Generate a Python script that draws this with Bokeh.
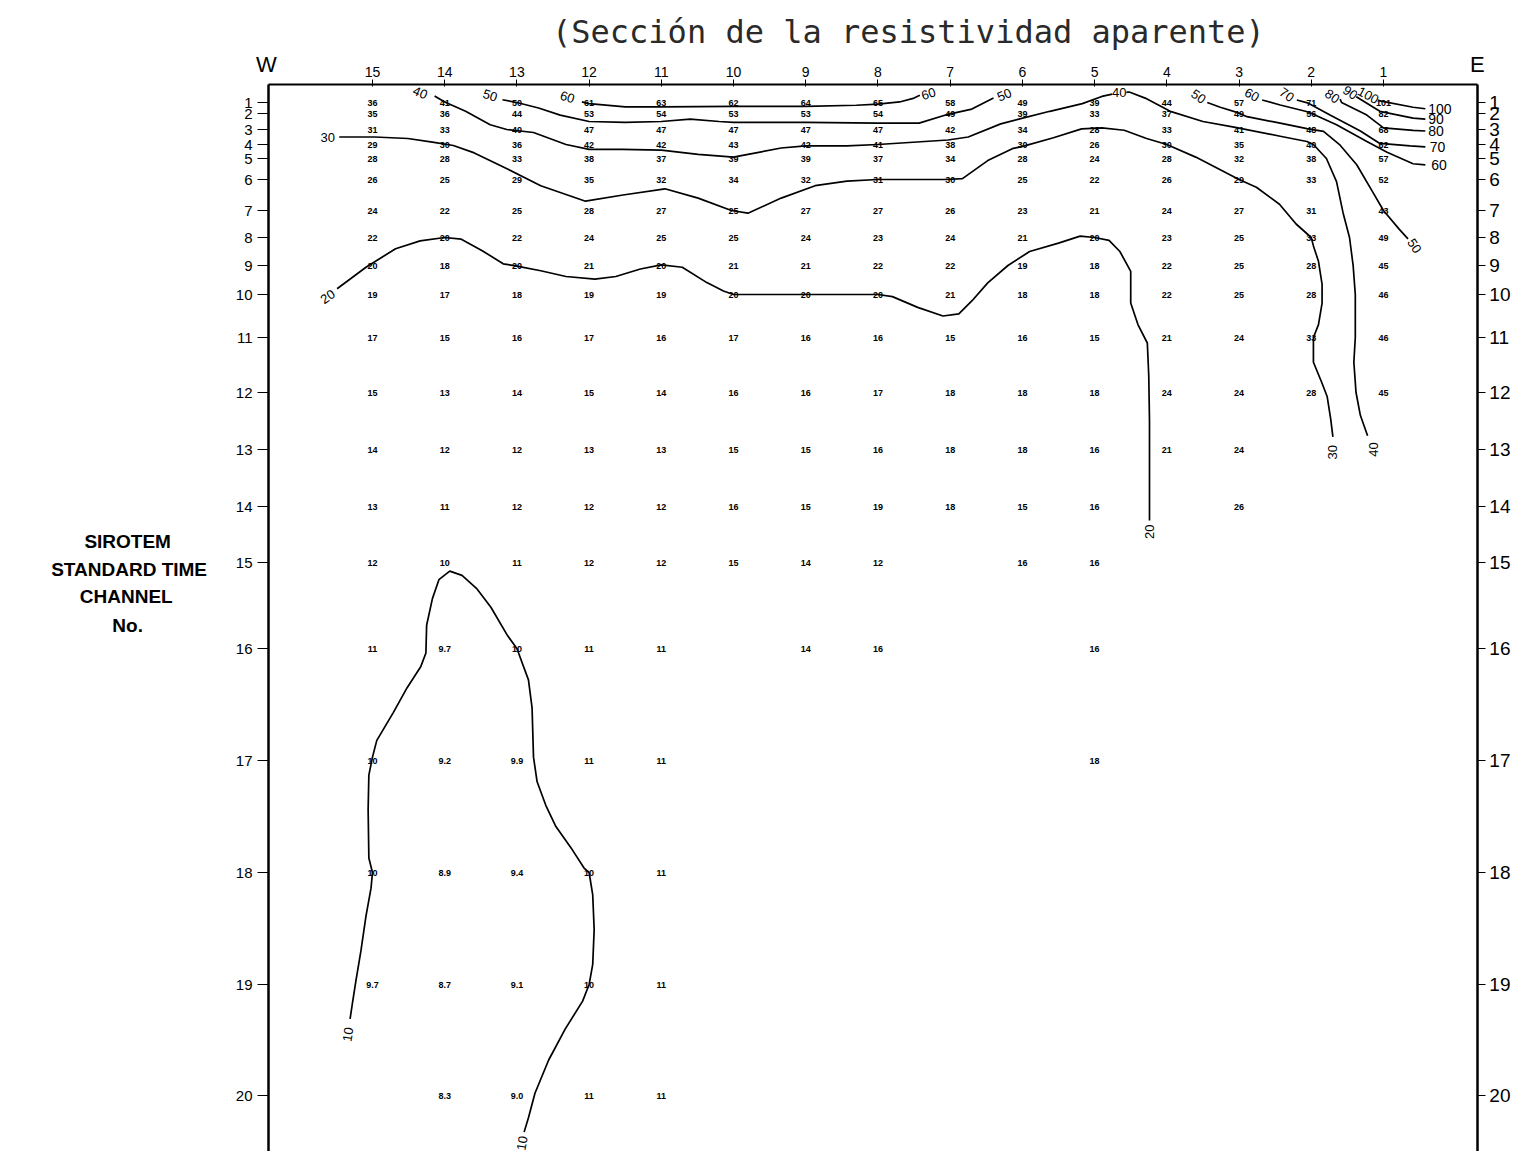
import numpy as np
from bokeh.plotting import figure
from bokeh.models import Range1d, FixedTicker, LinearAxis
from bokeh.core.properties import value
from bokeh.embed import file_html
from bokeh.resources import INLINE

# ---------------- data ----------------
STATIONS = [15, 14, 13, 12, 11, 10, 9, 8, 7, 6, 5, 4, 3, 2, 1]
CHANNELS = list(range(1, 21))
# vertical position of each SIROTEM time channel on the section (uneven scale)
CHANNEL_POS = [102, 113, 129, 144, 158, 179, 210, 237, 265, 294,
               337, 392, 449, 506, 562, 648, 760, 872, 984, 1095]

# apparent resistivity per channel, stations 15 -> 1 (None = no reading)
CH01 = [36, 41, 50, 61, 63, 62, 64, 65, 58, 49, 39, 44, 57, 71, 101]
CH02 = [35, 36, 44, 53, 54, 53, 53, 54, 49, 39, 33, 37, 49, 56, 82]
CH03 = [31, 33, 40, 47, 47, 47, 47, 47, 42, 34, 28, 33, 41, 48, 68]
CH04 = [29, 30, 36, 42, 42, 43, 42, 41, 38, 30, 26, 30, 35, 40, 62]
CH05 = [28, 28, 33, 38, 37, 39, 39, 37, 34, 28, 24, 28, 32, 38, 57]
CH06 = [26, 25, 29, 35, 32, 34, 32, 31, 30, 25, 22, 26, 29, 33, 52]
CH07 = [24, 22, 25, 28, 27, 25, 27, 27, 26, 23, 21, 24, 27, 31, 43]
CH08 = [22, 20, 22, 24, 25, 25, 24, 23, 24, 21, 20, 23, 25, 33, 49]
CH09 = [20, 18, 20, 21, 20, 21, 21, 22, 22, 19, 18, 22, 25, 28, 45]
CH10 = [19, 17, 18, 19, 19, 20, 20, 20, 21, 18, 18, 22, 25, 28, 46]
CH11 = [17, 15, 16, 17, 16, 17, 16, 16, 15, 16, 15, 21, 24, 33, 46]
CH12 = [15, 13, 14, 15, 14, 16, 16, 17, 18, 18, 18, 24, 24, 28, 45]
CH13 = [14, 12, 12, 13, 13, 15, 15, 16, 18, 18, 16, 21, 24, None, None]
CH14 = [13, 11, 12, 12, 12, 16, 15, 19, 18, 15, 16, None, 26, None, None]
CH15 = [12, 10, 11, 12, 12, 15, 14, 12, None, 16, 16, None, None, None, None]
CH16 = [11, 9.7, 10, 11, 11, None, 14, 16, None, None, 16, None, None, None, None]
CH17 = [10, 9.2, 9.9, 11, 11, None, None, None, None, None, 18, None, None, None, None]
CH18 = [10, 8.9, 9.4, 10, 11, None, None, None, None, None, None, None, None, None, None]
CH19 = [9.7, 8.7, 9.1, 10, 11, None, None, None, None, None, None, None, None, None, None]
CH20 = [None, 8.3, 9.0, 11, 11, None, None, None, None, None, None, None, None, None, None]
RHO_ROWS = [CH01, CH02, CH03, CH04, CH05, CH06, CH07, CH08, CH09, CH10,
            CH11, CH12, CH13, CH14, CH15, CH16, CH17, CH18, CH19, CH20]

# iso-resistivity lines traced from the section: (station, channel)
C10_ST = [15.31, 15.28, 15.23, 15.16, 15.09, 15.02, 15.0, 15.05, 15.06, 15.05, 15.0, 14.94,
          14.71, 14.52, 14.33, 14.26, 14.25, 14.17, 14.08, 13.93, 13.76, 13.56, 13.36, 13.13,
          13.0, 12.84, 12.79, 12.77, 12.72, 12.6, 12.46, 12.23, 12.07, 12.0, 11.95, 11.93,
          11.95, 12.0, 12.09, 12.33, 12.56, 12.75, 12.84, 12.9]
C10_CH = [19.31, 19.18, 18.97, 18.7, 18.39, 18.14, 18.0, 17.87, 17.44, 17.13, 16.97, 16.82,
          16.57, 16.35, 16.16, 16.04, 15.73, 15.42, 15.2, 15.1, 15.15, 15.3, 15.52, 15.85,
          16.0, 16.28, 16.53, 16.97, 17.19, 17.4, 17.59, 17.8, 17.96, 18.0, 18.2, 18.51,
          18.82, 19.0, 19.15, 19.4, 19.68, 19.98, 20.2, 20.33]
C20_ST = [15.49, 15.09, 14.68, 14.34, 14.0, 13.77, 13.48, 13.19, 13.0, 12.67, 12.32, 11.92,
          11.63, 11.29, 11.0, 10.71, 10.37, 10.14, 10.0, 9.0, 8.0, 7.8, 7.45, 7.1, 6.88, 6.7,
          6.48, 6.2, 5.9, 5.5, 5.2, 5.0, 4.8, 4.65, 4.5, 4.5, 4.4, 4.27, 4.25, 4.24, 4.24, 4.24]
C20_CH = [9.8, 9.06, 8.4, 8.12, 8.0, 8.06, 8.47, 8.94, 9.02, 9.18, 9.38, 9.47,
          9.38, 9.12, 8.98, 9.06, 9.59, 9.88, 10.0, 10.0, 10.0, 10.05, 10.3, 10.5, 10.45, 10.15,
          9.6, 9.0, 8.5, 8.2, 7.95, 8.0, 8.1, 8.5, 9.2, 10.2, 10.7, 11.1, 11.7, 12.5, 13.5, 14.25]
C30_ST = [15.46, 14.97, 14.51, 14.17, 13.88, 13.59, 13.13, 12.67, 12.05, 11.53, 10.95, 10.49,
          10.03, 9.8, 9.34, 8.87, 8.43, 8.0, 7.06, 6.83, 6.48, 6.14, 5.97, 5.57, 5.18, 4.9,
          4.59, 4.28, 4.0, 3.6, 3.0, 2.76, 2.44, 2.21, 2.0, 1.97, 1.9, 1.85, 1.85, 1.9, 1.97,
          1.97, 1.86, 1.78, 1.73, 1.7]
C30_CH = [3.5, 3.5, 3.6, 3.84, 4.07, 4.6, 5.5, 6.2, 6.7, 6.5, 6.3, 6.6,
          7.0, 7.1, 6.6, 6.2, 6.05, 6.0, 6.0, 5.96, 5.1, 4.3, 4.1, 3.55, 2.96, 2.9,
          3.05, 3.6, 4.0, 4.9, 6.0, 6.25, 6.8, 7.5, 8.0, 8.3, 8.85, 9.65, 10.2, 10.7, 11.0,
          11.45, 11.8, 12.07, 12.47, 12.78]
C40_ST = [14.14, 14.0, 13.71, 13.37, 13.14, 12.77, 12.32, 12.0, 11.54, 11.0, 10.49, 10.0,
          9.8, 9.34, 9.0, 8.43, 8.0, 7.03, 6.75, 6.3, 6.05, 5.62, 5.17, 4.9, 4.66, 4.52, 4.3,
          3.94, 3.5, 3.07, 2.43, 2.06, 1.97, 1.79, 1.65, 1.56, 1.47, 1.42, 1.39, 1.39, 1.41,
          1.38, 1.32, 1.22]
C40_CH = [0.4, 0.95, 1.8, 2.7, 3.0, 3.2, 4.0, 4.35, 4.35, 4.4, 4.7, 4.9,
          4.7, 4.25, 4.1, 4.1, 4.0, 3.7, 3.5, 2.65, 2.35, 1.8, 1.1, 0.45, 0.1, 0.05, 0.6,
          1.83, 2.5, 2.85, 3.45, 3.8, 4.0, 5.0, 6.07, 7.08, 8.0, 9.0, 10.0, 11.0, 11.45,
          12.0, 12.4, 12.76]
C50W_ST = [13.2, 13.0, 12.7, 12.4, 12.0, 11.5, 11.0, 10.6, 10.2, 10.0, 9.0, 8.0, 7.43, 7.03, 6.7, 6.4]
C50W_CH = [0.75, 1.0, 1.5, 2.1, 2.5, 2.55, 2.5, 2.35, 2.5, 2.55, 2.55, 2.6, 2.6, 2.05, 1.6, 0.6]
C50E_ST = [3.44, 3.26, 3.03, 2.89, 2.43, 2.06, 1.83, 1.6, 1.37, 1.15, 1.0, 0.78, 0.66]
C50E_CH = [1.0, 1.43, 1.9, 2.2, 2.6, 2.95, 3.12, 4.05, 5.3, 6.4, 7.0, 7.7, 8.05]
C60W_ST = [12.1, 12.0, 11.5, 11.0, 10.0, 9.0, 8.3, 8.0, 7.7, 7.5, 7.42]
C60W_CH = [0.95, 1.1, 1.4, 1.4, 1.35, 1.35, 1.25, 1.15, 0.95, 0.6, 0.35]
C60E_ST = [2.68, 2.43, 2.04, 1.65, 1.23, 0.95, 0.59, 0.42]
C60E_CH = [0.77, 1.23, 1.86, 2.7, 3.8, 4.55, 5.25, 5.3]
C70_ST = [2.2, 2.04, 1.74, 1.32, 1.05, 0.63, 0.42]
C70_CH = [0.77, 1.06, 2.1, 3.1, 3.93, 4.1, 4.17]
C80_ST = [1.6, 1.58, 1.23, 1.0, 0.59, 0.42]
C80_CH = [0.7, 1.0, 2.1, 2.9, 3.06, 3.1]
C90_ST = [1.38, 1.32, 1.05, 0.59, 0.42]
C90_CH = [0.45, 0.71, 1.8, 2.29, 2.35]
C100_ST = [1.12, 1.05, 0.59, 0.42]
C100_CH = [0.6, 0.86, 1.43, 1.57]
CONTOURS = [(C10_ST, C10_CH), (C20_ST, C20_CH), (C30_ST, C30_CH), (C40_ST, C40_CH),
            (C50W_ST, C50W_CH), (C50E_ST, C50E_CH), (C60W_ST, C60W_CH), (C60E_ST, C60E_CH),
            (C70_ST, C70_CH), (C80_ST, C80_CH), (C90_ST, C90_CH), (C100_ST, C100_CH)]

# in-line contour labels
LAB_TEXT = ["10", "10", "20", "20", "30", "30", "40", "40", "40", "50", "50", "50", "50",
            "60", "60", "60", "70", "80", "90", "100"]
LAB_ST = [15.34, 12.93, 15.62, 4.24, 15.62, 1.70, 14.34, 4.66, 1.14, 13.37, 6.25, 3.56, 0.57,
          12.3, 7.3, 2.82, 2.34, 1.71, 1.46, 1.21]
LAB_CH = [19.45, 20.43, 10.05, 14.45, 3.5, 13.05, 0.1, 0.1, 13.0, 0.35, 0.3, 0.45, 8.3,
          0.5, 0.2, 0.3, 0.29, 0.43, 0.1, 0.35]
LAB_ANGLE = [1.4, 1.4, 0.6, 1.5708, 0.0, 1.5708, -0.4, 0.0, 1.5708, -0.3, 0.4, -0.6, -1.0,
             -0.3, 0.3, -0.5, -0.6, -0.6, -0.6, -0.5]
# end labels on the east side
END_TEXT = ["100", "90", "80", "70", "60"]
END_ST = [0.38, 0.38, 0.38, 0.36, 0.34]
END_CH = [1.57, 2.35, 3.1, 4.17, 5.3]

TITLE = "(Sección de la resistividad aparente)"
Y_TITLE = ["SIROTEM", "STANDARD TIME", "CHANNEL", "No."]
SIDE_TEXT = ["W", "E"]

# ---------------- layout constants ----------------
W, H = 1511, 1151
X_WEST, X_EAST = 16.44, -0.30           # section limits (station units)
Y_TOP = 84                              # top of the section on the channel scale
X_RANGE = (20.151, -0.773)              # full canvas in station units


def chan_y(ch):
    ch = np.asarray(ch, dtype=float)
    y = np.interp(ch, CHANNELS, CHANNEL_POS)
    lo = ch < 1
    y[lo] = CHANNEL_POS[0] - (1 - ch[lo]) * (CHANNEL_POS[1] - CHANNEL_POS[0])
    hi = ch > 20
    y[hi] = CHANNEL_POS[-1] + (ch[hi] - 20) * (CHANNEL_POS[-1] - CHANNEL_POS[-2])
    return y


p = figure(width=W, height=H,
           x_range=Range1d(*X_RANGE), y_range=Range1d(H, 0),
           output_backend="svg", toolbar_location=None,
           x_axis_location="above",
           min_border_left=0, min_border_right=0,
           min_border_top=0, min_border_bottom=0)
p.grid.visible = False
p.outline_line_color = None
p.background_fill_color = "white"
p.border_fill_color = "white"

FONT = "Liberation Sans"

# top axis (stations)
xa = p.xaxis[0]
xa.fixed_location = Y_TOP
xa.bounds = (X_EAST, X_WEST)
xa.ticker = FixedTicker(ticks=STATIONS)
xa.major_tick_in = 2
xa.major_tick_out = 5
xa.minor_tick_line_color = None
xa.axis_line_width = 2
xa.major_label_standoff = 3
xa.major_label_text_font = FONT
xa.major_label_text_font_size = "14px"
xa.major_label_text_color = "black"

overrides = {pos: str(ch) for pos, ch in zip(CHANNEL_POS, CHANNELS)}
ya = p.yaxis[0]
ya.fixed_location = X_WEST
ya.bounds = (Y_TOP, H)
ya.ticker = FixedTicker(ticks=CHANNEL_POS)
ya.major_label_overrides = overrides
ya.major_tick_in = 0
ya.major_tick_out = 11
ya.minor_tick_line_color = None
ya.axis_line_width = 2.5
ya.major_label_standoff = 5
ya.major_label_text_font = FONT
ya.major_label_text_font_size = "15px"
ya.major_label_text_color = "black"

ra = LinearAxis(ticker=FixedTicker(ticks=CHANNEL_POS), major_label_overrides=overrides,
                fixed_location=X_EAST, bounds=(Y_TOP, H))
ra.major_tick_in = 0
ra.major_tick_out = 8
ra.minor_tick_line_color = None
ra.axis_line_width = 2.5
ra.major_label_standoff = 4
ra.major_label_text_font = FONT
ra.major_label_text_font_size = "19px"
ra.major_label_text_color = "black"
p.add_layout(ra, "right")

# contour lines
for st, ch in CONTOURS:
    p.line(x=st, y=chan_y(ch), line_color="black", line_width=1.7)

# resistivity values
vx, vy, vt = [], [], []
for ch, row in zip(CHANNELS, RHO_ROWS):
    for st, v in zip(STATIONS, row):
        if v is None:
            continue
        vx.append(st)
        vy.append(chan_y([ch])[0])
        vt.append(f"{v:g}" if v >= 10 else f"{v:.1f}")
p.text(x=vx, y=vy, text=vt, text_font=value(FONT), text_font_size="9px",
       text_font_style="bold", text_align="center", text_baseline="middle",
       text_color="black")

# contour labels
p.text(x=LAB_ST, y=chan_y(LAB_CH), text=LAB_TEXT, angle=LAB_ANGLE,
       text_font=value(FONT), text_font_size="13px", text_align="center",
       text_baseline="middle", text_color="black", background_fill_color="white")
p.text(x=END_ST, y=chan_y(END_CH), text=END_TEXT,
       text_font=value(FONT), text_font_size="14px", text_align="left",
       text_baseline="middle", text_color="black", background_fill_color="white")

# title, orientation letters and vertical-axis caption
p.text(x=[7.578], y=[31], text=[TITLE], text_font=value("DejaVu Sans Mono"),
       text_font_size="32px", text_align="center", text_baseline="middle",
       text_color="#2a2a2a")
p.text(x=[16.47, -0.30], y=[64, 64], text=SIDE_TEXT, text_font=value(FONT),
       text_font_size="22px", text_align="center", text_baseline="middle",
       text_color="black")
p.text(x=[18.39, 18.37, 18.41, 18.39], y=[541, 569, 596, 625], text=Y_TITLE,
       text_font=value(FONT), text_font_size="19px", text_font_style="bold",
       text_align="center", text_baseline="middle", text_color="black")

open("out.html", "w").write(file_html(p, INLINE))
